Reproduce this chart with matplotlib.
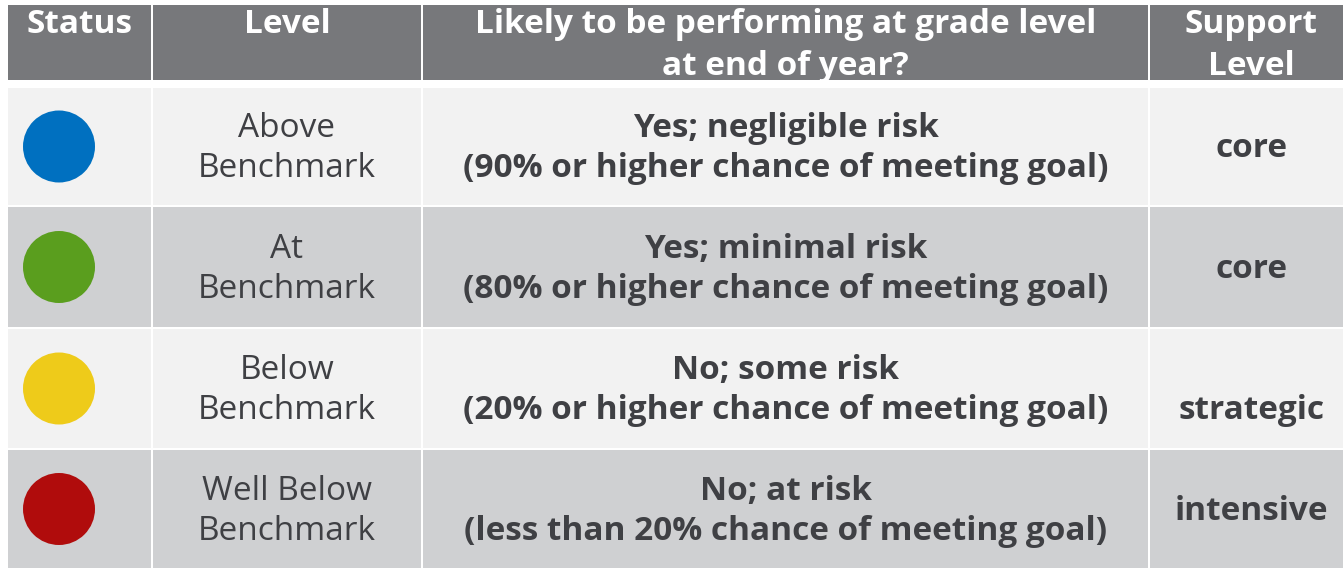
import matplotlib
matplotlib.use("Agg")
import matplotlib.pyplot as plt
from matplotlib.patches import Rectangle, Circle

headers = ["Status", "Level", "Likely to be performing at grade level\nat end of year?", "Support\nLevel"]
levels = ["Above\nBenchmark", "At\nBenchmark", "Below\nBenchmark", "Well Below\nBenchmark"]
outlooks = ["Yes; negligible risk\n(90% or higher chance of meeting goal)",
            "Yes; minimal risk\n(80% or higher chance of meeting goal)",
            "No; some risk\n(20% or higher chance of meeting goal)",
            "No; at risk\n(less than 20% chance of meeting goal)"]
supports = ["core", "core", "\nstrategic", "intensive"]
status_colors = ["#0070c0", "#5a9e1e", "#eecb1a", "#b00c0c"]
row_fill = ["#f2f2f2", "#cfd0d2", "#f2f2f2", "#cfd0d2"]

W, H = 1343, 568
fig = plt.figure(figsize=(W / 100, H / 100), dpi=100)
ax = fig.add_axes([0, 0, 1, 1])
ax.set_xlim(0, W)
ax.set_ylim(H, 0)
ax.axis("off")

col_edges = [(8, 151), (153, 421), (423, 1148), (1150, 1353)]
head_top, head_bot = 5, 80
row_edges = [(88, 205), (207, 327), (329, 448), (450, 568)]
head_color = "#77787b"
text_color = "#3f4044"
font = "Open Sans"
fs = 24

def cx(j):
    return (col_edges[j][0] + col_edges[j][1]) / 2

for j, h in enumerate(headers):
    x0, x1 = col_edges[j]
    ax.add_patch(Rectangle((x0, head_top), x1 - x0, head_bot - head_top, color=head_color, lw=0))
    ax.text(cx(j), head_top + 3, h, ha="center", va="top", color="white",
            fontsize=fs, fontweight="bold", family=font, linespacing=1.36)

for i, (y0, y1) in enumerate(row_edges):
    cy = (y0 + y1) / 2
    ty = cy + 2
    for (x0, x1) in col_edges:
        ax.add_patch(Rectangle((x0, y0), x1 - x0, y1 - y0, color=row_fill[i], lw=0))
    ax.add_patch(Circle((59, cy), 36, color=status_colors[i], lw=0))
    ax.text(cx(1), ty, levels[i], ha="center", va="center",
            color=text_color, fontsize=fs, family=font, linespacing=1.28)
    ax.text(cx(2), ty, outlooks[i], ha="center", va="center",
            color=text_color, fontsize=fs, fontweight="bold", family=font, linespacing=1.28)
    ax.text(cx(3), ty, supports[i], ha="center", va="center",
            color=text_color, fontsize=fs, fontweight="bold", family=font, linespacing=1.28)

fig.savefig("out.png", dpi=100, facecolor="white")
